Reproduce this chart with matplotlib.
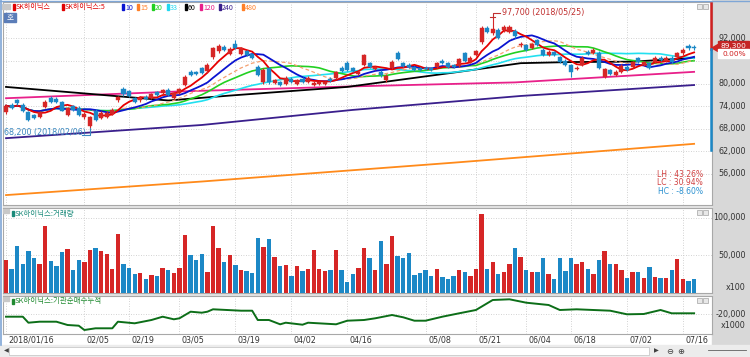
import numpy as np
import pandas as pd
import matplotlib
matplotlib.use("Agg")
import matplotlib.pyplot as plt
from matplotlib import transforms
from matplotlib.patches import Rectangle, Polygon
from matplotlib.lines import Line2D

KR = ['Noto Sans CJK KR', 'DejaVu Sans']
plt.rcParams['font.family'] = ['DejaVu Sans']

# daily candles, one per trading day from 2018/01/16 to 2018/07/18
opens = [72500, 74200, 75500, 74300, 72400, 71600, 71100, 73800, 76200, 76000,
         75000, 71600, 74000, 73500, 71000, 68600, 72700, 70800, 71200, 72000,
         75500, 78500, 78000, 76100, 75500, 76500, 76200, 77800, 77600, 78300,
         76200, 77500, 79600, 83100, 83000, 84100, 83200, 87000, 88700, 89700,
         87800, 90500, 87800, 88600, 87800, 84400, 80400, 84100, 80100, 80300,
         80000, 81200, 79900, 81300, 80400, 79700, 79800, 79800, 81300, 81500,
         84200, 85500, 84000, 82600, 84900, 85400, 83800, 83000, 80900, 84100,
         88100, 85400, 85000, 84300, 84000, 84200, 84000, 84300, 86000, 85400,
         84800, 84600, 88000, 85800, 87600, 91000, 94700, 93400, 94300, 94200,
         93800, 94000, 90200, 90200, 89400, 91500, 88900, 87600, 88300, 87000,
         86000, 84900, 83800, 85000, 88400, 88100, 88100, 81700, 83500, 82300,
         83000, 84500, 84400, 86700, 85000, 85400, 85700, 86800, 86000, 86800,
         87000, 88000, 90000, 89800]
closes = [74100, 73600, 74700, 72700, 70300, 70900, 72400, 75100, 75100, 75200,
          72800, 73500, 72900, 71700, 72000, 71100, 70300, 72200, 72300, 73000,
          76500, 77200, 76800, 75200, 76200, 76000, 77200, 77000, 78300, 77000,
          77500, 78500, 81800, 82300, 82500, 82800, 85000, 89400, 90000, 88900,
          89200, 89400, 89400, 87500, 86800, 82300, 83600, 80400, 80900, 79700,
          81500, 80500, 80900, 80400, 81500, 80200, 80300, 80300, 80700, 83000,
          83300, 83600, 83300, 83100, 87500, 84400, 84300, 82200, 82000, 85700,
          86500, 84600, 84300, 83700, 83500, 83800, 83500, 85400, 85400, 84300,
          84300, 86500, 86000, 86800, 88600, 94800, 93700, 94500, 92100, 95100,
          95100, 92500, 90600, 88900, 90400, 90200, 87600, 88400, 87600, 85700,
          85000, 83100, 84200, 86800, 87900, 88900, 84100, 83800, 82500, 83100,
          84700, 83500, 85700, 85800, 85700, 84100, 86800, 86200, 86800, 85800,
          88000, 88900, 89300, 89300]
highs = [74500, 74800, 76000, 74800, 72600, 72000, 72700, 75500, 76700, 76300,
         75400, 73900, 74400, 74000, 72500, 71500, 73200, 72600, 72700, 73400,
         76800, 79000, 78400, 76500, 76600, 76900, 77500, 78100, 78600, 78700,
         77800, 78900, 82200, 83600, 83400, 84500, 85400, 89800, 90400, 90200,
         89600, 91600, 89800, 89000, 88200, 84800, 84000, 84500, 81300, 80700,
         81900, 81600, 81300, 81700, 81900, 80600, 80700, 80700, 81700, 83400,
         84600, 85900, 84400, 83500, 87900, 85800, 84700, 83500, 82400, 86300,
         88500, 85800, 85400, 84700, 84400, 84600, 84400, 85800, 86400, 85800,
         85200, 86900, 88400, 87200, 89000, 95300, 95200, 97700, 94700, 95500,
         95500, 94400, 91000, 90600, 90800, 91900, 89300, 88800, 88700, 87400,
         86400, 85300, 84600, 87200, 88800, 89300, 88500, 84200, 83900, 83500,
         85100, 84900, 86100, 87100, 86100, 85800, 87200, 87200, 87200, 87200,
         88400, 89300, 90400, 90200]
lows = [72000, 73200, 74300, 72400, 70000, 70600, 70800, 73500, 74800, 74900,
        72600, 71300, 72600, 71300, 70600, 68200, 70000, 70500, 70900, 71700,
        75200, 76800, 76500, 74900, 75200, 75700, 75900, 76700, 77300, 76700,
        75900, 77200, 79300, 82000, 82200, 82500, 82900, 86500, 88200, 88600,
        87500, 89100, 87500, 87200, 86400, 82000, 80000, 79800, 79800, 79400,
        79700, 80200, 79600, 80100, 80100, 79400, 79500, 79500, 80400, 81200,
        83000, 83300, 83000, 82300, 84600, 84100, 83500, 81800, 80500, 83800,
        86200, 84300, 84000, 83400, 83200, 83500, 83200, 84000, 85100, 84000,
        84000, 84300, 85700, 85500, 87300, 90600, 93300, 93000, 91800, 93800,
        93400, 92200, 89800, 88600, 89100, 89900, 87300, 87300, 87300, 85400,
        84700, 81700, 83500, 84700, 87600, 87800, 83800, 81400, 82200, 82000,
        82700, 83200, 84100, 85500, 84700, 83800, 85400, 85900, 85700, 85500,
        86700, 87700, 89000, 89000]
# volume (x100 shares)
volumes = [43400, 32300, 62300, 39000, 56200, 46900, 38000, 88400, 42400, 35800,
           54000, 57900, 30100, 43400, 40700, 56600, 60200, 56200, 51300, 32300,
           78300, 39000, 33700, 24800, 26500, 18200, 23500, 22600, 33700, 31000,
           26500, 33700, 76900, 50000, 44300, 51700, 27800, 88400, 59700, 41100,
           50000, 36700, 31000, 29200, 26500, 72900, 61000, 71600, 47700, 35800,
           36700, 22600, 35400, 29200, 32300, 56600, 31400, 28800, 30100, 57500,
           30100, 14600, 24800, 33700, 59700, 46400, 30100, 68600, 38000, 75600,
           49600, 46000, 53500, 23500, 26500, 30100, 22600, 32300, 21200, 19100,
           22100, 30100, 28400, 22100, 32300, 104400, 31800, 41600, 24800, 27400,
           38000, 60200, 47700, 31000, 27400, 27400, 46000, 25700, 18600, 46000,
           29200, 46900, 38000, 41600, 32300, 25700, 44300, 55300, 38000, 38000,
           30100, 20400, 28400, 27400, 19900, 34500, 20800, 19900, 19900, 30100,
           45100, 18200, 15900, 19100]

# long moving averages at some days (day index, price)
ma60_days = [0, 15, 29, 40, 50, 61, 70, 80, 92, 101, 112, 123]
ma60_vals = [79100, 77250, 75500, 76800, 77900, 79100, 80900, 82900, 85400, 85700, 85800, 86800]
ma120_days = [0, 31, 61, 91, 123]
ma120_vals = [76100, 77900, 79200, 80300, 83100]
ma240_days = [0, 35, 62, 92, 123]
ma240_vals = [65500, 69000, 73000, 76700, 79600]
ma480_days = [0, 35, 80, 123]
ma480_vals = [50400, 54000, 59000, 64000]

# institution net buying, cumulative (x1000)
inst_days = [0, 3, 4, 6, 9, 11, 13, 14, 16, 19, 20, 23, 26, 28, 30, 31, 33, 35, 36, 37,
             42, 44, 45, 47, 49, 50, 53, 54, 59, 61, 64, 66, 69, 71, 73, 75, 78, 81, 84,
             87, 90, 93, 97, 99, 102, 105, 108, 111, 114, 117, 119, 123]
inst_vals = [-22700, -22700, -28700, -27700, -27700, -31000, -31700, -36000, -34300, -34300,
             -27700, -29300, -26000, -22700, -25300, -24300, -17700, -18700, -17700, -15300,
             -16700, -16700, -26000, -26000, -30300, -28700, -30700, -28700, -30300, -26700,
             -26000, -24300, -21000, -23300, -26700, -26700, -22700, -19300, -16000,
             -6000, -5300, -8700, -11000, -16000, -15300, -16000, -16700, -20300, -20000,
             -16000, -19300, -19300]

tick_days = [0, 14, 22, 31, 41, 51, 61, 75, 84, 93, 101, 111, 121]
tick_labels = ['2018/01/16', '02/05', '02/19', '03/05', '03/19', '04/02', '04/16',
               '05/08', '05/21', '06/04', '06/18', '07/02', '07/16']
price_ticks = [92000, 80000, 74000, 68000, 62000, 56000]
price_grid = [92000, 86000, 80000, 74000, 68000, 62000, 56000]
high_date = '2018/05/25'
low_date = '2018/02/06'

RED = '#d62626'
BLUE = '#1c88c6'
GRID = '#c4c4c4'
W, H = 750, 357

fig = plt.figure(figsize=(7.5, 3.57), dpi=100)


def fbox(x, y, w, h, **kw):
    fig.add_artist(Rectangle((x / W, 1 - (y + h) / H), w / W, h / H,
                             transform=fig.transFigure, **kw))


def ftext(x, y, s, **kw):
    fig.text(x / W, 1 - y / H, s, **kw)


def fline(xs, ys, **kw):
    fig.add_artist(Line2D([v / W for v in xs], [1 - v / H for v in ys],
                          transform=fig.transFigure, **kw))


# background parts
fbox(712, 0, 38, 345, color='#d8d8d8', zorder=-1)
fbox(0, 345, 750, 12, color='#ececec', zorder=-1)
fbox(3, 205, 709, 3, color='#e4e4e4', zorder=-1)
fbox(3, 293, 709, 3, color='#e4e4e4', zorder=-1)

ax_p = fig.add_axes([3 / W, 1 - 205 / H, 709 / W, 203 / H])
ax_v = fig.add_axes([3 / W, 1 - 293 / H, 709 / W, 85 / H])
ax_i = fig.add_axes([3 / W, 1 - 334 / H, 709 / W, 38 / H])

n = len(closes)
x = np.arange(n)
xlim = (-0.54, 126.2)
for ax in (ax_p, ax_v, ax_i):
    ax.set_xlim(*xlim)
    ax.set_xticks([])
    ax.set_yticks([])
    for s in ax.spines.values():
        s.set_color('#a8a8a8')
        s.set_linewidth(0.8)
    for d in tick_days:
        ax.axvline(d, color=GRID, lw=0.6, ls=(0, (1, 2)), zorder=0)

# ---- price panel
ax_p.set_ylim(47770, 101630)
for p in price_grid:
    ax_p.axhline(p, color=GRID, lw=0.6, ls=(0, (1, 2)), zorder=0)

s = pd.Series(closes)
ma5 = s.rolling(5, min_periods=1).mean()
ma10 = s.rolling(10, min_periods=1).mean()
ma15 = s.rolling(15, min_periods=1).mean()
ma20 = s.rolling(20, min_periods=1).mean()
ma33 = s.rolling(33, min_periods=1).mean()

ax_p.plot(ma480_days, ma480_vals, color='#ff8a1a', lw=1.3, zorder=2)
ax_p.plot(ma240_days, ma240_vals, color='#3a1f8c', lw=1.3, zorder=2)
ax_p.plot(ma120_days, ma120_vals, color='#e8208a', lw=1.3, zorder=2)
ax_p.plot(ma60_days, ma60_vals, color='#000000', lw=1.3, zorder=2)
ax_p.plot(x, ma33, color='#22e0f0', lw=1.2, zorder=2)
ax_p.plot(x, ma20, color='#22d022', lw=1.2, zorder=2)
ax_p.plot(x, ma15, color='#f4a070', lw=0.9, ls=(0, (3, 2)), zorder=2)
ax_p.plot(x, ma10, color='#0a14d0', lw=1.3, zorder=2)
ax_p.plot(x, ma5, color='#e60000', lw=1.3, zorder=2)

o = np.array(opens)
c = np.array(closes)
hi = np.array(highs)
lo = np.array(lows)
col = np.where(c >= o, RED, BLUE)
ax_p.vlines(x, lo, hi, colors=col, lw=0.8, zorder=4)
ax_p.bar(x, np.maximum(np.abs(c - o), 150), bottom=np.minimum(o, c), width=0.72,
         color=col, edgecolor=col, lw=0.3, zorder=5)

# high / low notes
ih = int(np.argmax(hi))
il = int(np.argmin(lo))
top_y = 98790
ax_p.plot([ih, ih, ih + 1.3], [hi[ih], top_y, top_y], color='#c03030', lw=0.8, zorder=6)
ax_p.plot([ih - 0.4, ih + 0.4], [hi[ih], hi[ih]], color='#c03030', lw=0.8, zorder=6)
ax_p.text(ih + 1.6, top_y, f'{hi[ih]:,} ({high_date})', color='#c03030', fontsize=5.8,
          va='center', ha='left', zorder=6)
ax_p.plot([il - 1.4, il, il], [66350, 66350, lo[il]], color='#3a88c0', lw=0.8, zorder=6)
ax_p.text(-0.45, 66880, f'{lo[il]:,} ({low_date})', color='#3a88c0', fontsize=5.8,
          va='center', ha='left', zorder=6)

last = c[-1]
lh = (hi.max() - lo.min()) / lo.min() * 100
lc = (last - lo.min()) / lo.min() * 100
hc = (last - hi.max()) / hi.max() * 100
ftext(703, 174, f'LH : {lh:.2f}%', color='#d04040', fontsize=5.5, ha='right', va='center')
ftext(703, 183, f'LC : {lc:.2f}%', color='#d04040', fontsize=5.5, ha='right', va='center')
ftext(703, 192, f'HC : {hc:.2f}%', color='#2a90d0', fontsize=5.5, ha='right', va='center')

# legend line
fbox(2, 4, 8, 5, color='#c8c8c8')
legend = [(13, 'SK하이닉스', '#e00000'), (62, 'SK하이닉스:5', '#e00000'), (122, '10', '#0a14d0'),
          (137, '15', '#ff7f27'), (152, '20', '#22d022'), (167, '33', '#22d8f0'),
          (185, '60', '#000000'), (200, '120', '#e8208a'), (219, '240', '#3a1f8c'),
          (242, '480', '#ff7f27')]
for lx, txt, cl in legend:
    fbox(lx, 4.5, 1.6, 5.5, color=cl)
    ftext(lx + 3, 7.5, txt, color=cl, fontsize=5.1, family=KR, va='center', ha='left')
fbox(4, 13, 12, 9, color='#5b7db8')
ftext(10, 17.5, '호', color='white', fontsize=5.5, family=KR, va='center', ha='center')
for bx in (697, 703):
    fbox(bx, 4, 4.5, 4.5, facecolor='#e8e8e8', edgecolor='#909090', lw=0.4)
    fbox(bx, 210, 4.5, 4.5, facecolor='#e8e8e8', edgecolor='#909090', lw=0.4)
    fbox(bx, 298, 4.5, 4.5, facecolor='#e8e8e8', edgecolor='#909090', lw=0.4)

# right price scale
tp = transforms.blended_transform_factory(fig.transFigure, ax_p.transData)
for p in price_ticks:
    fig.text(746 / W, p, f'{p:,}', transform=tp, ha='right', va='center',
             fontsize=5.8, color='#333333')
fline([711, 711], [3, 49], color='#d02020', lw=1.8, zorder=2)
fline([711, 711], [49, 150], color='#1c88c6', lw=1.8, zorder=2)
fig.add_artist(Polygon([[712 / W, 1 - 48 / H], [718 / W, 1 - 44.5 / H], [718 / W, 1 - 51.5 / H]],
                       closed=True, color='#d02020', transform=fig.transFigure))
fbox(718, 41.5, 31, 8, color='#c42424', zorder=3)
ftext(746, 45.8, f'{last:,}', ha='right', va='center', fontsize=5.3, color='white', zorder=4)
fbox(718, 49.5, 31, 8, color='white', zorder=3)
ftext(746, 53.8, f'{(c[-1] - c[-2]) / c[-2] * 100:.2f}%', ha='right', va='center',
      fontsize=5.3, color='#d02020', zorder=4)

# ---- volume panel
ax_v.set_ylim(0, 112700)
for v in (50000, 100000):
    ax_v.axhline(v, color=GRID, lw=0.6, ls=(0, (1, 2)), zorder=0)
ax_v.bar(x, volumes, width=0.78, color=col, zorder=3)
tv = transforms.blended_transform_factory(fig.transFigure, ax_v.transData)
for v in (100000, 50000):
    fig.text(746 / W, v, f'{v:,}', transform=tv, ha='right', va='center',
             fontsize=5.8, color='#333333')
ftext(746, 287, 'x100', ha='right', va='center', fontsize=5.8, color='#333333')
fbox(3, 209, 6, 4, color='#c8c8c8')
fbox(12, 211, 1.6, 5.5, color='#1a8a7a')
ftext(15, 214, 'SK하이닉스:거래량', color='#1a8a7a', fontsize=5.4, family=KR, va='center')

# ---- institution panel
ax_i.set_ylim(-40000, -2000)
ax_i.axhline(-20000, color=GRID, lw=0.6, ls=(0, (1, 2)), zorder=0)
ax_i.plot(inst_days, inst_vals, color='#0c6e18', lw=1.4, zorder=3)
ti = transforms.blended_transform_factory(fig.transFigure, ax_i.transData)
fig.text(746 / W, -20000, '-20,000', transform=ti, ha='right', va='center',
         fontsize=5.8, color='#333333')
ftext(746, 325, 'x1000', ha='right', va='center', fontsize=5.8, color='#333333')
fbox(3, 297, 6, 4, color='#c8c8c8')
fbox(12, 298.5, 1.6, 5.5, color='#208a30')
ftext(15, 301.5, 'SK하이닉스:기관순매수누적', color='#208a30', fontsize=5.4, family=KR, va='center')

# ---- date labels
td = transforms.blended_transform_factory(ax_i.transData, fig.transFigure)
for d, lab in zip(tick_days, tick_labels):
    fig.text(d + 0.45, 1 - 340 / H, lab, transform=td, ha='left', va='center',
             fontsize=5.8, color='#333333')

# ---- scroll bar and frame
fbox(9, 347, 640, 8, facecolor='white', edgecolor='#c0c0c0', lw=0.5)
ftext(4, 351, '◀', fontsize=4.5, color='#404040', va='center')
ftext(654, 351, '▶', fontsize=4.5, color='#404040', va='center')
ftext(666, 351, '⊖', fontsize=6, color='#404040', va='center')
ftext(677, 351, '⊕', fontsize=6, color='#404040', va='center')
fline([708, 746], [350, 350], color='#606060', lw=0.6)
fline([0.5, 0.5], [0, 345], color='#7fa6d6', lw=1.2)
fline([0, 750], [0.5, 0.5], color='#7fa6d6', lw=1.0)

fig.savefig('out.png', dpi=100)
